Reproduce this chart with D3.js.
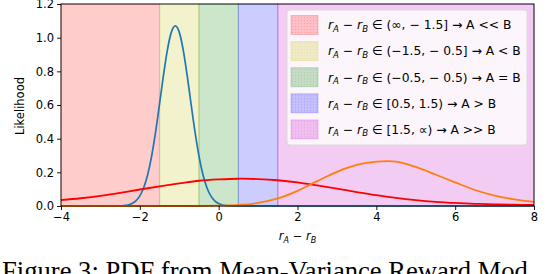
<!DOCTYPE html>
<html>
<head>
<meta charset="utf-8">
<script src="https://cdn.jsdelivr.net/npm/d3@7"></script>
<style>
  body { margin: 0; background: #fff; }
  text { font-family: "DejaVu Sans", sans-serif; }
</style>
</head>
<body>
<script>
var width = 548,
    height = 274;

// band edges and colours (axvspan regions)
var bandEdges = [-4, -1.5, -0.5, 0.5, 1.5, 8];
var bandColors = ["#ff0000", "#bfbf00", "#008000", "#0000ff", "#bf00bf"];
var legendLabels = [
  ["(∞, − 1.5]", "A << B"],
  ["(−1.5, − 0.5]", "A < B"],
  ["(−0.5, − 0.5)", "A = B"],
  ["[0.5, 1.5)", "A > B"],
  ["[1.5, ∝)", "A >> B"]
];

// blue curve (narrow)
var blueX = [-4, -2.6, -2.5, -2.4, -2.3, -2.2, -2.1, -2.0, -1.9, -1.8, -1.7, -1.6, -1.5, -1.4, -1.3, -1.2, -1.1,
             -1.0, -0.9, -0.8, -0.7, -0.6, -0.5, -0.4, -0.3, -0.2, -0.1, 0.0, 0.1, 0.2, 0.3, 0.4, 8];
var blueY = [0, 0.000, 0.001, 0.003, 0.006, 0.015, 0.031, 0.060, 0.110, 0.187, 0.297, 0.440, 0.606, 0.777, 0.928, 1.033, 1.070,
             1.033, 0.928, 0.777, 0.606, 0.440, 0.297, 0.187, 0.110, 0.060, 0.031, 0.015, 0.006, 0.003, 0.001, 0.000, 0];

// red + orange curves share an x grid
var gridX = [-4, -3.5, -3, -2.5, -2, -1.5, -1, -0.5, 0, 0.5, 1, 1.5, 2, 2.5, 3, 3.5, 4, 4.5, 5, 5.5, 6, 6.5, 7, 7.5, 8];
var redY = [0.035, 0.046, 0.060, 0.078, 0.098, 0.117, 0.134, 0.150, 0.158, 0.162, 0.160, 0.153, 0.140,
            0.122, 0.103, 0.083, 0.064, 0.048, 0.035, 0.025, 0.018, 0.013, 0.010, 0.008, 0.006];
var orangeY = [0, 0, 0, 0, 0, 0, 0, 0, 0.002, 0.006, 0.018, 0.045, 0.090,
               0.148, 0.203, 0.244, 0.263, 0.264, 0.232, 0.187, 0.140, 0.095, 0.062, 0.040, 0.025];

var xTicks = [-4, -2, 0, 2, 4, 6, 8];
var yTicks = [0, 0.2, 0.4, 0.6, 0.8, 1.0, 1.2];

var svg = d3.select("body").append("svg")
    .attr("width", width)
    .attr("height", height);

var x = d3.scaleLinear().domain([-4, 8]).range([61, 534]);
var y = d3.scaleLinear().domain([0, 1.2]).range([206, 4]);

var defs = svg.append("defs");
bandColors.forEach(function(c, i) {
  var p = defs.append("pattern")
      .attr("id", "dots" + i)
      .attr("width", 3).attr("height", 3)
      .attr("patternUnits", "userSpaceOnUse");
  p.append("rect").attr("width", 3).attr("height", 3)
      .attr("fill", c).attr("fill-opacity", 0.22);
  p.append("rect").attr("x", 1).attr("y", 1).attr("width", 1).attr("height", 1)
      .attr("fill", c).attr("fill-opacity", 0.15);
});

// bands
svg.selectAll(".band")
    .data(bandColors)
    .enter()
    .append("rect")
    .attr("class", "band")
    .attr("x", (d, i) => x(bandEdges[i]))
    .attr("width", (d, i) => x(bandEdges[i + 1]) - x(bandEdges[i]))
    .attr("y", y(1.2))
    .attr("height", y(0) - y(1.2))
    .attr("fill", d => d)
    .attr("fill-opacity", 0.2)
    .attr("stroke", d => d)
    .attr("stroke-opacity", 0.2)
    .attr("stroke-width", 1.2);

var line = d3.line()
    .x(d => x(d[0]))
    .y(d => y(d[1]))
    .curve(d3.curveMonotoneX);
var smooth = d3.line()
    .x(d => x(d[0]))
    .y(d => Math.min(y(d[1]), y(0)))
    .curve(d3.curveCatmullRom.alpha(0.5));

var plot = svg.append("g");
plot.append("path")
    .datum(blueX.map((v, i) => [v, blueY[i]]))
    .attr("d", line)
    .attr("fill", "none")
    .attr("stroke", "#1f77b4")
    .attr("stroke-width", 1.7);
plot.append("path")
    .datum(gridX.map((v, i) => [v, redY[i]]))
    .attr("d", smooth)
    .attr("fill", "none")
    .attr("stroke", "#ff0000")
    .attr("stroke-width", 1.8);
plot.append("path")
    .datum(gridX.map((v, i) => [v, orangeY[i]]))
    .attr("d", smooth)
    .attr("fill", "none")
    .attr("stroke", "#ff7f0e")
    .attr("stroke-width", 1.8);

// axes
var xAxis = svg.append("g")
    .attr("transform", "translate(0," + y(0) + ")")
    .call(d3.axisBottom(x).tickValues(xTicks).tickSize(4).tickPadding(3).tickFormat(d3.format("d")));
var yAxis = svg.append("g")
    .attr("transform", "translate(" + x(-4) + ",0)")
    .call(d3.axisLeft(y).tickValues(yTicks).tickSize(4).tickPadding(3).tickFormat(d3.format(".1f")));
[xAxis, yAxis].forEach(function(a) {
  a.select(".domain").remove();
  a.selectAll("text").attr("font-size", 11.5).attr("fill", "#000")
      .style("font-family", "DejaVu Sans");
  a.selectAll("line").attr("stroke", "#000").attr("stroke-width", 0.9);
});

svg.append("rect")
    .attr("x", x(-4)).attr("y", y(1.2))
    .attr("width", x(8) - x(-4)).attr("height", y(0) - y(1.2))
    .attr("fill", "none")
    .attr("stroke", "#000")
    .attr("stroke-width", 0.9);

// math-ish label r_A − r_B
function diffLabel(t, size) {
  t.append("tspan").attr("font-style", "italic").text("r");
  t.append("tspan").attr("font-style", "italic").attr("font-size", size * 0.7).attr("dy", size * 0.22).text("A");
  t.append("tspan").attr("dy", -size * 0.22).text(" − ");
  t.append("tspan").attr("font-style", "italic").text("r");
  t.append("tspan").attr("font-style", "italic").attr("font-size", size * 0.7).attr("dy", size * 0.22).text("B");
}

var xl = svg.append("text")
    .attr("x", (x(-4) + x(8)) / 2)
    .attr("y", 240)
    .attr("text-anchor", "middle")
    .attr("font-size", 11.5);
diffLabel(xl, 11.5);

svg.append("text")
    .attr("transform", "translate(24,106) rotate(-90)")
    .attr("text-anchor", "middle")
    .attr("font-size", 11.5)
    .text("Likelihood");

// legend
var legSize = 12.3;
var leg = svg.append("g");
leg.append("rect")
    .attr("x", 287).attr("y", 10)
    .attr("width", 240).attr("height", 135)
    .attr("rx", 3)
    .attr("fill", "#fcf5fc")
    .attr("stroke", "#d8d8d8")
    .attr("stroke-width", 0.9);

var rows = leg.selectAll(".row")
    .data(legendLabels)
    .enter()
    .append("g")
    .attr("class", "row")
    .attr("transform", (d, i) => "translate(0," + (25 + i * 26.1) + ")");

rows.append("rect")
    .attr("x", 291).attr("y", -9.5)
    .attr("width", 27).attr("height", 19)
    .attr("fill", (d, i) => "url(#dots" + i + ")")
    .attr("stroke", (d, i) => bandColors[i])
    .attr("stroke-opacity", 0.2)
    .attr("stroke-width", 1);

rows.each(function(d) {
  var t = d3.select(this).append("text")
      .attr("x", 328).attr("y", 4.3)
      .attr("font-size", legSize);
  diffLabel(t, legSize);
  t.append("tspan").attr("dy", -legSize * 0.22).text(" ∈ " + d[0] + " → " + d[1]);
});

// caption
svg.append("text")
    .attr("x", 2).attr("y", 280)
    .attr("font-size", 26.6)
    .style("font-family", "Liberation Serif, serif")
    .text("Figure 3: PDF from Mean-Variance Reward Mod");
</script>
</body>
</html>
